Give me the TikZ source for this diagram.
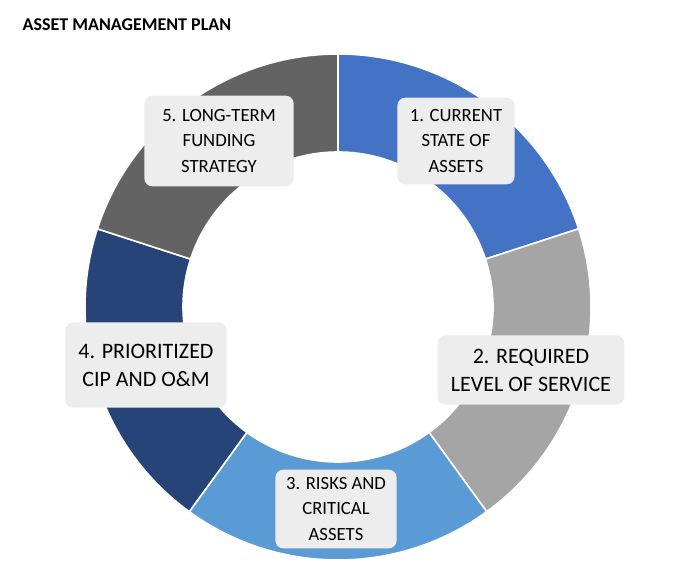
\documentclass[tikz,border=0pt]{standalone}
\usepackage{fontspec}
\setmainfont{Carlito}
\usetikzlibrary{calc}
\definecolor{segA}{HTML}{4472C4}
\definecolor{segB}{HTML}{A5A5A5}
\definecolor{segC}{HTML}{5B9BD5}
\definecolor{segD}{HTML}{264478}
\definecolor{segE}{HTML}{636363}
\definecolor{boxfill}{HTML}{EDEDED}
\tikzset{
  planbox/.style={fill=boxfill, rounded corners=6pt, align=center, inner sep=0pt},
  smallbox/.style={planbox, font=\fontsize{14}{19}\selectfont},
  largebox/.style={planbox, font=\fontsize{16.5}{21}\selectfont},
}
\newcommand{\seg}[3]{%
  \fill[#3, draw=white, line width=1.2pt] (338,273) ++(#1:253) arc (#1:#2:253)
    -- ($(338,273)+(#2:155)$) arc (#2:#1:155) -- cycle;}
\begin{document}
\begin{tikzpicture}[x=0.75pt,y=0.75pt]
  \useasboundingbox (0,0) rectangle (673,580);
  % Ring
  \seg{90}{18}{segA}
  \seg{18}{-54}{segB}
  \seg{-54}{-126}{segC}
  \seg{-126}{-198}{segD}
  \seg{162}{90}{segE}
  % Title
  \node[anchor=west, font=\bfseries\fontsize{13.5}{16}\selectfont] (title) at (18,555) {ASSET MANAGEMENT PLAN};
  % Steps
  \node[smallbox, minimum width=88pt, minimum height=65pt] (s1) at (456,439) {1. CURRENT\\STATE OF\\ASSETS};
  \node[largebox, minimum width=140pt, minimum height=52pt] (s2) at (531,210) {2. REQUIRED\\LEVEL OF SERVICE};
  \node[smallbox, minimum width=91pt, minimum height=59pt] (s3) at (336,71) {3. RISKS AND\\CRITICAL\\ASSETS};
  \node[largebox, minimum width=121pt, minimum height=64pt] (s4) at (146,215) {4. PRIORITIZED\\CIP AND O\&M};
  \node[smallbox, minimum width=112pt, minimum height=68pt] (s5) at (219,439) {5. LONG-TERM\\FUNDING\\STRATEGY};
\end{tikzpicture}
\end{document}
